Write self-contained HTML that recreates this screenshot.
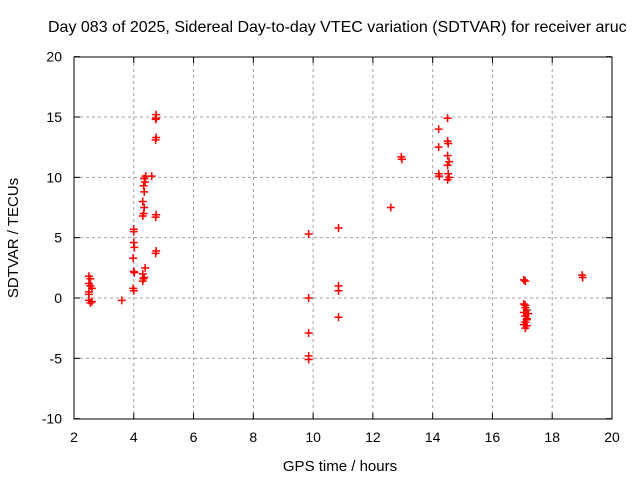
<!DOCTYPE html>
<html><head><meta charset="utf-8"><style>
body{margin:0;background:#fff;}
svg{display:block;font-family:"Liberation Sans",sans-serif;}
</style></head><body>
<svg id="chart" width="640" height="480">
<text x="48" y="32" font-size="16">Day 083 of 2025, Sidereal Day-to-day VTEC variation (SDTVAR) for receiver aruc</text>
<g id="grid"></g><g id="ticks"></g><g id="pts"></g>
<rect x="74" y="57" width="538" height="362" fill="none" stroke="#000" stroke-width="1"/>
<text x="340" y="471" font-size="15" text-anchor="middle">GPS time / hours</text>
<text transform="translate(18,238) rotate(-90)" font-size="15" text-anchor="middle">SDTVAR / TECUs</text>
</svg>
<script>
const xTicks=[2,4,6,8,10,12,14,16,18,20];
const yTicks=[-10,-5,0,5,10,15,20];
const hours=[2.5,2.55,2.5,2.6,2.5,2.55,2.5,2.55,2.6,2.5,3.6,
4.0,4.0,4.0,4.02,3.98,4.0,4.02,3.98,4.0,
4.3,4.35,4.3,4.38,4.32,4.3,4.33,4.35,4.3,4.35,4.33,4.38,4.35,4.4,4.6,
4.75,4.75,4.73,4.75,4.73,4.75,4.73,4.75,4.73,
9.85,9.85,9.85,9.85,9.85,10.85,10.85,10.85,10.85,
12.6,12.95,12.97,14.2,14.2,14.2,14.22,14.5,14.5,14.52,14.5,14.55,14.5,14.52,14.55,14.5,
17.05,17.1,17.05,17.1,17.15,17.05,17.1,17.15,17.1,17.05,17.15,17.1,17.2,17.1,17.15,
19.0,19.02];
const values=[1.8,1.6,1.2,0.8,0.5,1.0,-0.2,-0.4,-0.3,0.3,-0.2,
5.7,5.5,4.6,4.2,3.3,2.2,2.1,0.8,0.6,
1.4,1.7,2.0,2.5,1.6,6.8,7.0,7.5,8.0,8.8,9.3,9.6,9.9,10.1,10.1,
15.2,14.9,14.8,13.3,13.1,6.9,6.7,3.9,3.7,
5.3,0,-2.9,-4.8,-5.1,5.8,1.0,0.6,-1.6,
7.5,11.7,11.5,14.0,12.5,10.3,10.1,14.9,13.0,12.8,11.8,11.3,11.0,10.3,10.0,9.8,
1.5,1.4,-0.5,-0.8,-1.0,-1.2,-1.5,-1.8,-2.0,-2.2,-2.3,-2.5,-1.3,-0.6,-1.7,
1.9,1.7];
const X=h=>74+(h-2)*538/18, Y=v=>298-v*362/30;
const NS="http://www.w3.org/2000/svg";
const g=document.getElementById('grid'),t=document.getElementById('ticks'),p=document.getElementById('pts');
function mk(tag,a,par){const e=document.createElementNS(NS,tag);for(const k in a)e.setAttribute(k,a[k]);par.appendChild(e);return e;}
xTicks.forEach(v=>{const x=X(v);
 if(v>2&&v<20){const l=mk('line',{x1:x,x2:x,y1:57,y2:419,stroke:'#a0a0a0','stroke-dasharray':'3,3'},g);
 
 }
 mk('line',{x1:x,x2:x,y1:419,y2:413,stroke:'#000'},t);mk('line',{x1:x,x2:x,y1:57,y2:63,stroke:'#000'},t);
 const tx=mk('text',{x:x,y:442,'font-size':14,'text-anchor':'middle'},t);tx.textContent=v;
 
 });
yTicks.forEach(v=>{const y=Y(v);
 if(v>-10&&v<20){const l=mk('line',{x1:74,x2:612,y1:y,y2:y,stroke:'#a0a0a0','stroke-dasharray':'3,3'},g);
 
 }
 mk('line',{x1:74,x2:80,y1:y,y2:y,stroke:'#000'},t);mk('line',{x1:612,x2:606,y1:y,y2:y,stroke:'#000'},t);
 const tx=mk('text',{x:62,y:y+5,'font-size':14,'text-anchor':'end'},t);tx.textContent=v;
 
 });
hours.forEach((h,i)=>{const x=X(h),y=Y(values[i]);
 const e=mk('path',{d:`M${x-4},${y}H${x+4}M${x},${y-4}V${y+4}`,stroke:'#f00','stroke-width':1.5},p);
 
 });
</script>
</body></html>
